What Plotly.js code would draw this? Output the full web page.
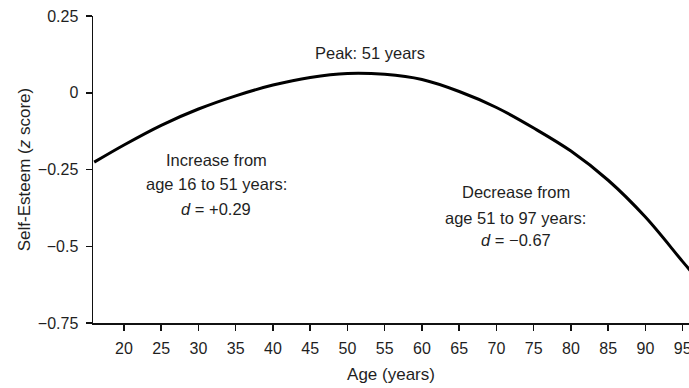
<!DOCTYPE html>
<html>
<head>
<meta charset="utf-8">
<script src="https://cdn.plot.ly/plotly-3.0.1.min.js"></script>
<style>
  html, body { margin: 0; padding: 0; background: #fff; overflow: hidden; }
  #chart { width: 689px; height: 388px; }
</style>
</head>
<body>
<div id="chart"></div>
<script>
// Fitted self-esteem trajectory across the life span (z scores by age)
const ages = [16, 20, 25, 30, 35, 40, 45, 50, 55, 60, 65, 70, 75, 80, 85, 90, 95, 97];
const selfEsteem = [-0.226, -0.170, -0.106, -0.053, -0.010, 0.025, 0.050, 0.063, 0.060, 0.043, 0.004, -0.048, -0.115, -0.190, -0.285, -0.405, -0.550, -0.607];

const xTicks = [20, 25, 30, 35, 40, 45, 50, 55, 60, 65, 70, 75, 80, 85, 90, 95];
const yTicks = [-0.75, -0.5, -0.25, 0, 0.25];
const yTickText = ['\u22120.75', '\u22120.5', '\u22120.25', '0', '0.25'];

// Text notes placed in data coordinates (age, z score)
const noteText = [
  'Peak: 51 years',
  'Increase from', 'age 16 to 51 years:', '<i>d</i> = +0.29',
  'Decrease from', 'age 51 to 97 years:', '<i>d</i> = \u22120.67'
];
const noteAge = [53.0, 32.4, 32.4, 32.4, 72.6, 72.6, 72.6];
const noteZ = [0.130, -0.220, -0.298, -0.379, -0.323, -0.407, -0.480];

const FONT = '"Liberation Sans", Arial, Helvetica, sans-serif';
const INK = '#1f1f1f';

const trace = {
  x: ages,
  y: selfEsteem,
  type: 'scatter',
  mode: 'lines',
  line: { color: '#000', width: 3, shape: 'spline', smoothing: 1 },
  hoverinfo: 'skip',
  cliponaxis: true
};

const annotations = noteText.map((t, i) => ({
  x: noteAge[i], y: noteZ[i], xref: 'x', yref: 'y',
  text: t, showarrow: false,
  xanchor: 'center', yanchor: 'middle',
  font: { family: FONT, size: 16.5, color: INK }
}));

const layout = {
  width: 689,
  height: 388,
  margin: { l: 93, r: 0, t: 16, b: 65 },
  paper_bgcolor: '#fff',
  plot_bgcolor: '#fff',
  showlegend: false,
  font: { family: FONT, color: INK, size: 16 },
  xaxis: {
    range: [15.84, 95.85],
    tickvals: xTicks,
    ticktext: xTicks.map(String),
    ticks: 'outside',
    ticklen: 6,
    tickwidth: 1.5,
    tickcolor: '#111',
    showline: true,
    linecolor: '#111',
    linewidth: 1.5,
    showgrid: false,
    zeroline: false,
    ticklabelstandoff: 4,
    ticklabeloverflow: 'allow',
    tickfont: { family: FONT, size: 16, color: INK },
    title: { text: 'Age (years)', font: { family: FONT, size: 17, color: INK }, standoff: 12 }
  },
  yaxis: {
    range: [-0.75, 0.25],
    tickvals: yTicks,
    ticktext: yTickText,
    ticks: 'outside',
    ticklen: 6,
    tickwidth: 1.5,
    tickcolor: '#111',
    showline: true,
    linecolor: '#111',
    linewidth: 1.5,
    showgrid: false,
    zeroline: false,
    ticklabelstandoff: 4,
    ticklabeloverflow: 'allow',
    tickfont: { family: FONT, size: 16, color: INK },
    title: { text: 'Self-Esteem (<i>z</i> score)', font: { family: FONT, size: 17, color: INK }, standoff: 3 }
  },
  annotations: annotations
};

Plotly.newPlot('chart', [trace], layout, { staticPlot: true, displayModeBar: false });
</script>
</body>
</html>
